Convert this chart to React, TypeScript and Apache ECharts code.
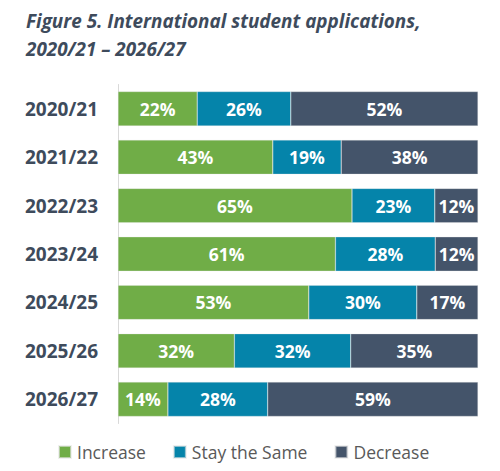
import React, { useEffect, useRef } from "react";
import * as echarts from "echarts";

const categories = ["2020/21", "2021/22", "2022/23", "2023/24", "2024/25", "2025/26", "2026/27"];
const increase = [22, 43, 65, 61, 53, 32, 14];
const staySame = [26, 19, 23, 28, 30, 32, 28];
const decrease = [52, 38, 12, 12, 17, 35, 59];
const seriesNames = ["Increase", "Stay the Same", "Decrease"];
const colors = ["#70AD47", "#0584AA", "#44546A"];

export default function App() {
  const ref = useRef<HTMLDivElement>(null);
  useEffect(() => {
    if (!ref.current) return;
    const chart = echarts.init(ref.current, undefined, { renderer: "svg" });
    const raw = [increase, staySame, decrease];
    const totals = categories.map((_, i) => increase[i] + staySame[i] + decrease[i]);
    const font = "'Open Sans', 'Noto Sans', sans-serif";
    chart.setOption({
      animation: false,
      title: {
        text: "Figure 5. International student applications,\n2020/21 \u2013 2026/27",
        left: 21,
        top: 2,
        textStyle: {
          fontFamily: font,
          fontStyle: "italic",
          fontWeight: "bold",
          fontSize: 18.9,
          lineHeight: 28,
          color: "#3E4B5C",
        },
      },
      legend: {
        left: 53,
        top: 438,
        itemWidth: 12,
        itemHeight: 12,
        itemGap: 27,
        icon: "rect",
        textStyle: { fontFamily: font, fontSize: 17.5, color: "#595959", padding: [0, 0, 0, 1] },
        data: seriesNames,
      },
      grid: { left: 118, right: 22, top: 84.5, bottom: 47.5 },
      xAxis: { type: "value", min: 0, max: 100, show: false },
      yAxis: {
        type: "category",
        data: categories,
        inverse: true,
        axisLine: { show: true, lineStyle: { color: "#D9D9D9", width: 1 } },
        axisTick: { show: false },
        axisLabel: {
          margin: 20,
          fontFamily: font,
          fontWeight: "bold",
          fontSize: 19,
          color: "#3E4B5C",
        },
      },
      series: seriesNames.map((name, s) => ({
        name,
        type: "bar",
        stack: "total",
        barCategoryGap: "29%",
        itemStyle: { color: colors[s], borderColor: "rgba(230,230,230,0.6)", borderWidth: 0.5 },
        label: {
          show: true,
          position: "inside",
          fontFamily: font,
          fontWeight: "bold",
          fontSize: 17.5,
          color: "#FFFFFF",
          formatter: (p: any) => raw[s][p.dataIndex] + "%",
        },
        data: raw[s].map((v, i) => (v / totals[i]) * 100),
      })),
    });
    return () => chart.dispose();
  }, []);
  return (
    <div
      ref={ref}
      style={{ position: "fixed", left: 0, top: 0, width: 500, height: 471, background: "#fff" }}
    />
  );
}
